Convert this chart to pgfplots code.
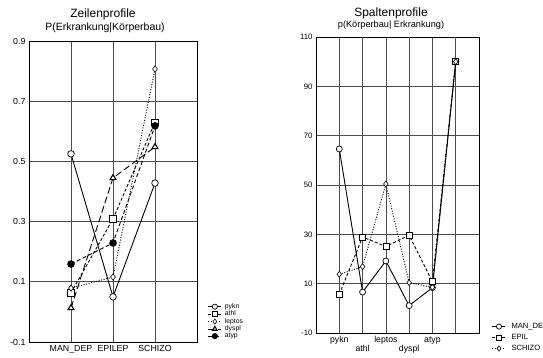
\documentclass[border=0pt]{standalone}
\usepackage{pgfplots}
\pgfplotsset{compat=1.18}
\usepackage{fontspec}
\setmainfont{Liberation Sans}
\pgfplotsset{
  prof/.style={
    scale only axis, anchor=south west, clip=false,
    axis line style={line width=0.9pt},
    grid=major, major grid style={black!70, line width=0.7pt},
    tick style={draw=none},
    /pgf/number format/assume math mode=true,
    legend cell align=left,
    legend style={draw=none, fill=none, inner sep=0pt, outer sep=0pt,
      nodes={inner sep=0.6pt}},
    legend image code/.code={\draw[mark repeat=2,mark phase=2] plot coordinates {(0pt,0pt)(6.5pt,0pt)(13pt,0pt)};},
    every legend image post/.style={mark size=2.6pt},
    every axis plot/.append style={black, line width=0.9pt},
  },
  mcirc/.style={mark=*, mark options={solid, fill=white, line width=0.7pt}, mark size=3.3pt},
  msq/.style={mark=square*, mark options={solid, fill=white, line width=0.7pt}, mark size=3.2pt},
  mdia/.style={mark=diamond*, mark options={solid, fill=white, line width=0.6pt}, mark size=3.2pt},
  mtri/.style={mark=triangle*, mark options={solid, fill=white, line width=1.1pt}, mark size=3.4pt},
  mfill/.style={mark=*, mark options={solid, fill=black}, mark size=3.3pt},
}
\begin{document}
\begin{tikzpicture}[x=1pt,y=1pt]
\begin{axis}[prof, at={(29pt,16pt)}, width=168pt, height=301pt,
  xmin=0, xmax=4, ymin=-0.1, ymax=0.9,
  xtick={1,2,3}, xticklabels={MAN\_DEP,EPILEP,SCHIZO},
  ytick={-0.1,0.1,0.3,0.5,0.7,0.9}, yticklabels={-0.1,0.1,0.3,0.5,0.7,0.9},
  ticklabel style={font=\fontsize{8.8}{10}\selectfont},
  legend style={at={(1.065,0.13)}, anchor=north west, font=\fontsize{6.8}{7.5}\selectfont, row sep=-0.2pt,
    /tikz/every odd column/.append style={column sep=2.5pt}},
]
\addplot[solid, mcirc] coordinates {(1,0.525) (2,0.050) (3,0.428)};
\addlegendentry{pykn}
\addplot[dash pattern=on 3pt off 2pt, msq] coordinates {(1,0.063) (2,0.309) (3,0.630)};
\addlegendentry{athl}
\addplot[dash pattern=on 1pt off 1.6pt, mdia] coordinates {(1,0.079) (2,0.116) (3,0.807)};
\addlegendentry{leptos}
\addplot[dash pattern=on 7pt off 3pt, mtri] coordinates {(1,0.013) (2,0.445) (3,0.548)};
\addlegendentry{dyspl}
\addplot[dash pattern=on 4pt off 2.5pt, mfill] coordinates {(1,0.159) (2,0.229) (3,0.618)};
\addlegendentry{atyp}
\end{axis}
\begin{axis}[prof, at={(316pt,25pt)}, width=163pt, height=296pt,
  xmin=0, xmax=7, ymin=-10, ymax=110,
  xtick={1,3,5}, xticklabels={pykn,leptos,atyp},
  extra x ticks={2,4,6}, extra x tick labels={athl,dyspl,{}},
  extra x tick style={xticklabel style={yshift=-9pt}},
  ytick={-10,10,30,50,70,90,110},
  xticklabel style={font=\fontsize{8.7}{10}\selectfont},
  yticklabel style={font=\fontsize{7.8}{9}\selectfont},
  legend style={at={(1.08,0.035)}, anchor=north west, font=\fontsize{7.6}{8}\selectfont, row sep=3pt,
    /tikz/every odd column/.append style={column sep=5pt}},
]
\addplot[solid, mcirc, mark size=3pt] coordinates {(1,64.6) (2,6.6) (3,19.2) (4,1.1) (5,8.4) (6,100)};
\addlegendentry{MAN\_DEP}
\addplot[dash pattern=on 3pt off 2pt, msq, mark size=3pt] coordinates {(1,5.7) (2,28.9) (3,25.1) (4,29.6) (5,10.8) (6,100)};
\addlegendentry{EPIL}
\addplot[dash pattern=on 1pt off 1.6pt, mdia, mark size=3pt] coordinates {(1,13.8) (2,16.9) (3,50.4) (4,10.4) (5,8.5) (6,100)};
\addlegendentry{SCHIZO}
\end{axis}
\node[font=\fontsize{12}{14}\selectfont] at (103,344) {Zeilenprofile};
\node[font=\fontsize{10.5}{12}\selectfont] at (105,330) {P(Erkrankung|Körperbau)};
\node[font=\fontsize{12}{14}\selectfont] at (391,345) {Spaltenprofile};
\node[font=\fontsize{9.2}{11}\selectfont] at (391,333) {p(Körperbau| Erkrankung)};
\pgfresetboundingbox
\path (0,0) rectangle (543,358);
\end{tikzpicture}
\end{document}
